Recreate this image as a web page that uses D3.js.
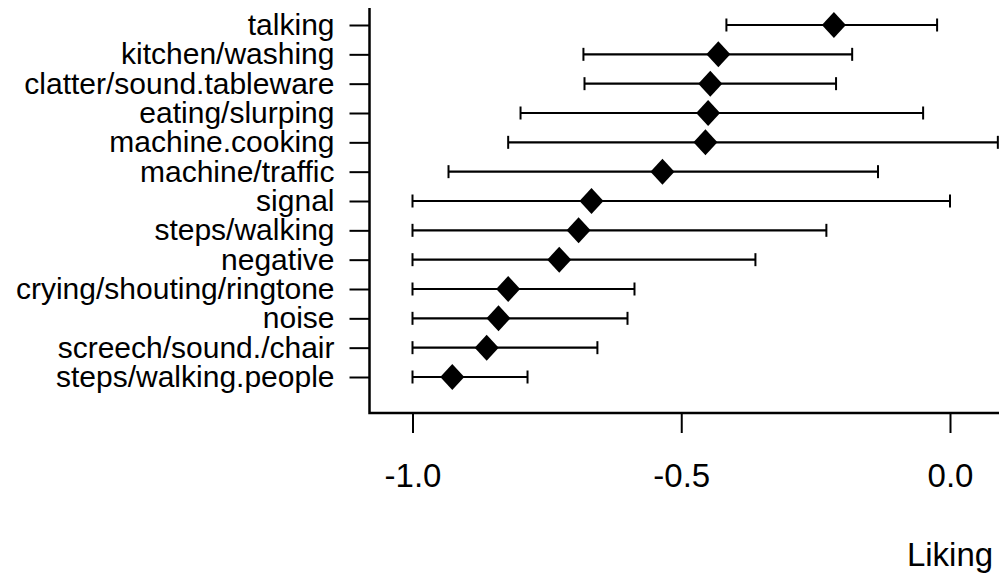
<!DOCTYPE html>
<html>
<head>
<meta charset="utf-8">
<script src="https://cdn.jsdelivr.net/npm/d3@7"></script>
<style>
  html, body { margin: 0; padding: 0; background: #fff; }
  svg { display: block; }
  text { font-family: "Liberation Sans", Arial, Helvetica, sans-serif; fill: #000; }
</style>
</head>
<body>
<svg id="chart" width="999" height="574"></svg>
<script>
// ---- data ----
const categories = [
  "talking", "kitchen/washing", "clatter/sound.tableware", "eating/slurping",
  "machine.cooking", "machine/traffic", "signal", "steps/walking", "negative",
  "crying/shouting/ringtone", "noise", "screech/sound./chair", "steps/walking.people"
];
const estimate = [-0.216, -0.431, -0.446, -0.450, -0.455, -0.535, -0.667, -0.691, -0.727, -0.822, -0.840, -0.862, -0.926];
const lower    = [-0.416, -0.682, -0.680, -0.799, -0.822, -0.933, -1.000, -1.000, -1.000, -1.000, -1.000, -1.000, -1.000];
const upper    = [-0.024, -0.182, -0.212, -0.050,  0.089, -0.134,  0.000, -0.230, -0.362, -0.587, -0.600, -0.656, -0.786];
const xTicks = [-1.0, -0.5, 0.0];
const xTickLabels = ["-1.0", "-0.5", "0.0"];
const xLabel = "Liking";

// ---- layout ----
const svg = d3.select("#chart");
const plot = { left: 369.5, right: 1000, top: 8, bottom: 413 };
const yFont = 30;
const xFont = 33;

const x = d3.scaleLinear().domain([-1, 0]).range([412.5, 950]);
const y = d3.scalePoint().domain(categories).range([25, 377]);

const rows = categories.map((c, i) => ({ cat: c, est: estimate[i], lo: lower[i], hi: upper[i] }));

// L-shaped box
svg.append("path")
  .attr("d", `M${plot.left},${plot.top}V${plot.bottom}H${plot.right}`)
  .attr("fill", "none").attr("stroke", "#000").attr("stroke-width", 2.5);

// Y axis (left)
const yAxis = d3.axisLeft(y).tickSize(20).tickPadding(15);
const gy = svg.append("g").attr("transform", `translate(${plot.left},0)`).call(yAxis);
gy.select(".domain").remove();
gy.selectAll(".tick line").attr("stroke", "#000").attr("stroke-width", 2);
gy.selectAll(".tick text").attr("font-size", yFont).attr("font-family", "Liberation Sans, Arial, sans-serif").attr("fill", "#000");

// X axis (bottom)
const xAxis = d3.axisBottom(x).tickValues(xTicks).tickFormat((d, i) => xTickLabels[i]).tickSize(20);
const gx = svg.append("g").attr("transform", `translate(0,${plot.bottom})`).call(xAxis);
gx.select(".domain").remove();
gx.selectAll(".tick line").attr("stroke", "#000").attr("stroke-width", 2);
gx.selectAll(".tick text")
  .attr("font-size", xFont).attr("font-family", "Liberation Sans, Arial, sans-serif").attr("fill", "#000")
  .attr("y", 74).attr("dy", 0);

// x label
svg.append("text")
  .attr("x", 950).attr("y", 566)
  .attr("text-anchor", "middle")
  .attr("font-size", xFont)
  .text(xLabel);

// error bars
const capH = 6.5;
const g = svg.append("g");
g.selectAll("line.bar").data(rows).join("line").attr("class", "bar")
  .attr("x1", d => x(d.lo)).attr("x2", d => x(d.hi))
  .attr("y1", d => y(d.cat)).attr("y2", d => y(d.cat))
  .attr("stroke", "#000").attr("stroke-width", 2.2);
g.selectAll("line.capL").data(rows).join("line").attr("class", "capL")
  .attr("x1", d => x(d.lo)).attr("x2", d => x(d.lo))
  .attr("y1", d => y(d.cat) - capH).attr("y2", d => y(d.cat) + capH)
  .attr("stroke", "#000").attr("stroke-width", 2);
g.selectAll("line.capR").data(rows).join("line").attr("class", "capR")
  .attr("x1", d => x(d.hi)).attr("x2", d => x(d.hi))
  .attr("y1", d => y(d.cat) - capH).attr("y2", d => y(d.cat) + capH)
  .attr("stroke", "#000").attr("stroke-width", 2);

// diamond markers (square rotated 45deg, slightly taller)
const diamondType = {
  draw(ctx, size) {
    const w = Math.sqrt(size) / 2, h = w * 1.08;
    ctx.moveTo(0, -h); ctx.lineTo(w, 0); ctx.lineTo(0, h); ctx.lineTo(-w, 0); ctx.closePath();
  }
};
g.selectAll("path.pt").data(rows).join("path").attr("class", "pt")
  .attr("transform", d => `translate(${x(d.est)},${y(d.cat)})`)
  .attr("d", d3.symbol().type(diamondType).size(24 * 24))
  .attr("fill", "#000");
</script>
</body>
</html>
